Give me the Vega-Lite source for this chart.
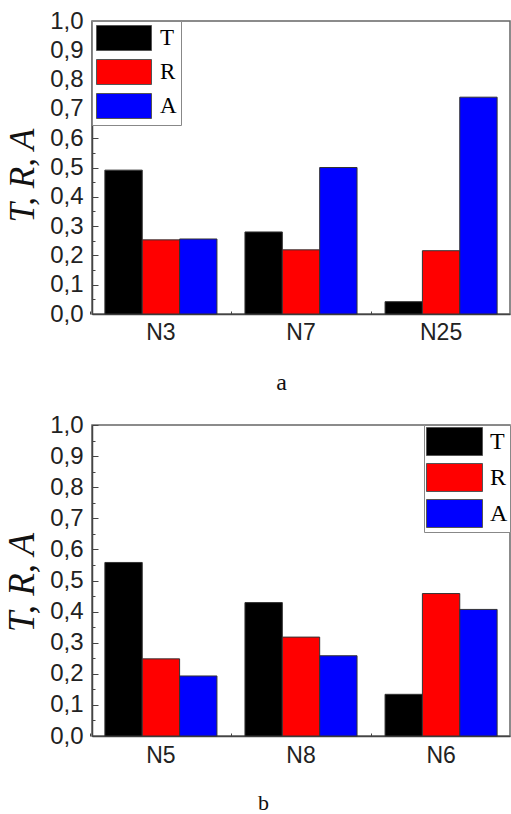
{
  "$schema": "https://vega.github.io/schema/vega-lite/v6.json",
  "padding": {"left": 2, "top": 8, "right": 0, "bottom": 0},
  "spacing": 17,
  "datasets": {
    "panelA": [
      {"group": "N3", "series": "T", "value": 0.491},
      {"group": "N3", "series": "R", "value": 0.253},
      {"group": "N3", "series": "A", "value": 0.256},
      {"group": "N7", "series": "T", "value": 0.28},
      {"group": "N7", "series": "R", "value": 0.219},
      {"group": "N7", "series": "A", "value": 0.5},
      {"group": "N25", "series": "T", "value": 0.042},
      {"group": "N25", "series": "R", "value": 0.216},
      {"group": "N25", "series": "A", "value": 0.74}
    ],
    "panelB": [
      {"group": "N5", "series": "T", "value": 0.558},
      {"group": "N5", "series": "R", "value": 0.248},
      {"group": "N5", "series": "A", "value": 0.193},
      {"group": "N8", "series": "T", "value": 0.429},
      {"group": "N8", "series": "R", "value": 0.318},
      {"group": "N8", "series": "A", "value": 0.258},
      {"group": "N6", "series": "T", "value": 0.134},
      {"group": "N6", "series": "R", "value": 0.458},
      {"group": "N6", "series": "A", "value": 0.407}
    ]
  },
  "config": {
    "view": {"stroke": "#666666", "strokeWidth": 1.5},
    "axis": {
      "domainColor": "#444444",
      "domainWidth": 1.5,
      "tickColor": "#444444",
      "tickWidth": 1,
      "grid": false,
      "labelColor": "#222222",
      "labelFont": "Liberation Sans",
      "titleColor": "#111111"
    }
  },
  "vconcat": [
    {
      "width": 418,
      "height": 293,
      "data": {"name": "panelA"},
      "layer": [
        {
          "mark": {"type": "bar", "stroke": "#333333", "strokeWidth": 1},
          "encoding": {
            "x": {
              "field": "group", "type": "nominal", "sort": ["N3", "N7", "N25"],
              "scale": {"paddingInner": 0.2, "paddingOuter": 0.092},
              "axis": {
                "orient": "bottom",
                "title": "a", "labelAngle": 0, "labelFontSize": 23, "tickSize": -6, "labelPadding": 13,
                "titleFont": "Liberation Serif", "titleFontSize": 24, "titleFontWeight": "normal",
                "titleX": 189, "titlePadding": 26
              }
            },
            "xOffset": {"field": "series", "sort": ["T", "R", "A"], "scale": {"paddingInner": 0, "paddingOuter": 0}},
            "y": {
              "field": "value", "type": "quantitative",
              "scale": {"domain": [0, 1], "nice": false},
              "axis": {
                "values": [0, 0.05, 0.1, 0.15, 0.2, 0.25, 0.3, 0.35, 0.4, 0.45, 0.5, 0.55, 0.6, 0.65, 0.7, 0.75, 0.8, 0.85, 0.9, 0.95, 1],
                "labelExpr": "round(datum.value*20)%2==0 ? replace(format(datum.value,'.1f'),'.',',') : ''",
                "tickSize": {"condition": {"test": "round(datum.value*20)%2==1", "value": -3}, "value": -6},
                "labelPadding": 15, "labelFontSize": 24,
                "title": "T, R, A", "titleFont": "Liberation Serif", "titleFontStyle": "italic", "titleFontWeight": "normal",
                "titleFontSize": 35, "titlePadding": 9, "titleY": 154
              }
            },
            "color": {
              "field": "series", "type": "nominal",
              "scale": {"domain": ["T", "R", "A"], "range": ["#000000", "#ff0000", "#0000ff"]},
              "legend": {
                "title": null, "orient": "none", "legendX": 0, "legendY": 0, "direction": "vertical",
                "symbolType": "M-1,-1H3.4V1H-1Z", "symbolSize": 625,
                "symbolStrokeColor": "#555555", "symbolStrokeWidth": 1,
                "labelFont": "Liberation Serif", "labelFontSize": 23, "labelColor": "#000000", "labelOffset": 38,
                "rowPadding": 4, "padding": 4, "strokeColor": "#888888", "fillColor": "#ffffff"
              }
            }
          }
        },
        {
          "mark": {"type": "point", "opacity": 0},
          "encoding": {
            "x": {
              "field": "group", "type": "nominal", "sort": ["N3", "N7", "N25"],
              "axis": {
                "orient": "bottom", "bandPosition": -0.124, "tickSize": -3, "labels": false,
                "domain": false, "title": null
              }
            }
          }
        }
      ],
      "resolve": {"axis": {"x": "independent"}}
    },
    {
      "width": 418,
      "height": 311,
      "data": {"name": "panelB"},
      "layer": [
        {
          "mark": {"type": "bar", "stroke": "#333333", "strokeWidth": 1},
          "encoding": {
            "x": {
              "field": "group", "type": "nominal", "sort": ["N5", "N8", "N6"],
              "scale": {"paddingInner": 0.2, "paddingOuter": 0.092},
              "axis": {
                "orient": "bottom",
                "title": "b", "labelAngle": 0, "labelFontSize": 23, "tickSize": -6, "labelPadding": 14,
                "titleFont": "Liberation Serif", "titleFontSize": 22, "titleFontWeight": "normal",
                "titleX": 171, "titlePadding": 25
              }
            },
            "xOffset": {"field": "series", "sort": ["T", "R", "A"], "scale": {"paddingInner": 0, "paddingOuter": 0}},
            "y": {
              "field": "value", "type": "quantitative",
              "scale": {"domain": [0, 1], "nice": false},
              "axis": {
                "values": [0, 0.05, 0.1, 0.15, 0.2, 0.25, 0.3, 0.35, 0.4, 0.45, 0.5, 0.55, 0.6, 0.65, 0.7, 0.75, 0.8, 0.85, 0.9, 0.95, 1],
                "labelExpr": "round(datum.value*20)%2==0 ? replace(format(datum.value,'.1f'),'.',',') : ''",
                "tickSize": {"condition": {"test": "round(datum.value*20)%2==1", "value": -3}, "value": -6},
                "labelPadding": 15, "labelFontSize": 24,
                "title": "T, R, A", "titleFont": "Liberation Serif", "titleFontStyle": "italic", "titleFontWeight": "normal",
                "titleFontSize": 37, "titlePadding": 8, "titleY": 157
              }
            },
            "color": {
              "field": "series", "type": "nominal",
              "scale": {"domain": ["T", "R", "A"], "range": ["#000000", "#ff0000", "#0000ff"]},
              "legend": {
                "title": null, "orient": "none", "legendX": 332, "legendY": 0, "direction": "vertical",
                "symbolType": "M-1,-1H3V1H-1Z", "symbolSize": 784,
                "symbolStrokeColor": "#555555", "symbolStrokeWidth": 1,
                "labelFont": "Liberation Serif", "labelFontSize": 24, "labelColor": "#000000", "labelOffset": 35,
                "rowPadding": 3, "padding": 2, "strokeColor": "#888888", "fillColor": "#ffffff"
              }
            }
          }
        },
        {
          "mark": {"type": "point", "opacity": 0},
          "encoding": {
            "x": {
              "field": "group", "type": "nominal", "sort": ["N5", "N8", "N6"],
              "axis": {
                "orient": "bottom", "bandPosition": -0.124, "tickSize": -3, "labels": false,
                "domain": false, "title": null
              }
            }
          }
        }
      ],
      "resolve": {"axis": {"x": "independent"}}
    }
  ],
  "resolve": {"scale": {"color": "independent", "x": "independent"}, "legend": {"color": "independent"}}
}
